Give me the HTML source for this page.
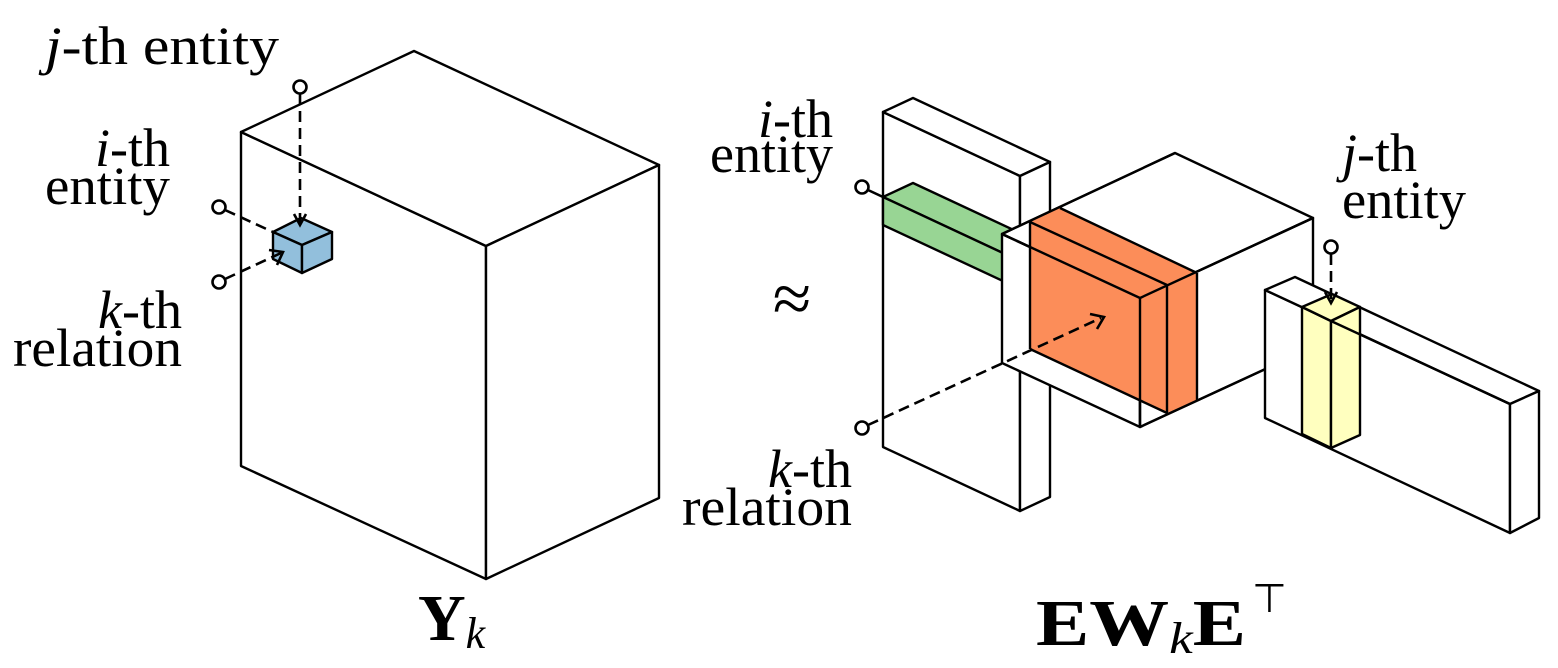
<!DOCTYPE html>
<html><head><meta charset="utf-8"><style>html,body{margin:0;padding:0;background:#fff}svg{display:block}</style></head>
<body>
<svg width="1558" height="668" viewBox="0 0 1558 668" xmlns="http://www.w3.org/2000/svg">
<g stroke="#000" stroke-width="2.4" stroke-linejoin="round" fill="#fff">
<polygon points="241,132 486,246 486,579 241,466"/>
<polygon points="241,132 414,51 659,165 486,246"/>
<polygon points="486,246 659,165 659,498 486,579"/>
<g fill="#92bfdc">
<polygon points="273,232 301,218 332,232 302,245"/>
<polygon points="273,232 302,245 302,273 273,259"/>
<polygon points="302,245 332,232 332,259 302,273"/>
</g>
<polygon points="883,112 1020,176 1020,511 883,447"/>
<polygon points="883,112 913,98 1050,162 1020,176"/>
<polygon points="1020,176 1050,162 1050,497 1020,511"/>
<g fill="#98d594">
<polygon points="883,197 913,183 1050,247 1020,261"/>
<polygon points="883,197 1020,261 1020,289 883,225"/>
</g>
<polygon points="1002,234 1140,298 1140,427 1002,363"/>
<polygon points="1002,234 1175,153 1313,218 1140,298"/>
<polygon points="1140,298 1313,218 1313,347 1140,427"/>
<polygon fill="#fc8d59" stroke="none" points="1030,222 1060,208 1197,273 1197,400 1167,413 1140,400 1030,349"/>
<g fill="none">
<line x1="1030" y1="222" x2="1030" y2="349"/>
<line x1="1030" y1="222" x2="1167" y2="285"/>
<line x1="1060" y1="208" x2="1197" y2="273"/>
<line x1="1140" y1="298" x2="1140" y2="427"/>
<line x1="1167" y1="285" x2="1167" y2="413"/>
<line x1="1197" y1="273" x2="1197" y2="400"/>
<line x1="1030" y1="349" x2="1167" y2="413"/>
<line x1="1002" y1="234" x2="1140" y2="298"/>
<line x1="1140" y1="298" x2="1313" y2="218"/>
<line x1="1140" y1="427" x2="1313" y2="347"/>
<line x1="1002" y1="234" x2="1175" y2="153"/>
</g>
<polygon points="1265,290 1510,404 1510,533 1265,418"/>
<polygon points="1265,290 1295,277 1539,391 1510,404"/>
<polygon points="1510,404 1539,391 1539,518 1510,533"/>
<g fill="#ffffbf">
<polygon points="1302,307 1331,321 1331,448 1302,434"/>
<polygon points="1302,307 1332,294 1360,307 1331,321"/>
<polygon points="1331,321 1360,307 1360,435 1331,448"/>
</g>
<line x1="1331" y1="321" x2="1510" y2="404"/>
</g>
<g stroke="#000" stroke-width="2.6" fill="none">
<g stroke-dasharray="11,6">
<line x1="225" y1="210" x2="273" y2="232"/>
<line x1="225" y1="279" x2="281" y2="253"/>
<line x1="300" y1="94" x2="300" y2="223"/>
<line x1="868" y1="425" x2="1101" y2="318"/>
<line x1="1331" y1="254" x2="1331" y2="300"/>
</g>
<line x1="868" y1="190" x2="883" y2="197"/>
<polyline points="269,250 283,252 277,265"/>
<polyline points="294,214 300,225 306,214"/>
<polyline points="1090,314 1104,317 1097,329"/>
<polyline points="1325,292 1331,303 1337,292"/>
<g fill="#fff">
<circle cx="219" cy="207" r="6.5"/>
<circle cx="219" cy="282" r="6.5"/>
<circle cx="300" cy="87" r="6.5"/>
<circle cx="862" cy="187" r="6.5"/>
<circle cx="862" cy="428" r="6.5"/>
<circle cx="1331" cy="247" r="6.5"/>
</g>
</g>
<g font-family="'Liberation Serif', serif" font-size="54" fill="#000">
<text x="45" y="64" textLength="234" lengthAdjust="spacingAndGlyphs"><tspan font-style="italic">j</tspan>-th entity</text>
<text x="170" y="166" text-anchor="end"><tspan font-style="italic">i</tspan>-th</text>
<text x="45" y="204" textLength="125" lengthAdjust="spacingAndGlyphs">entity</text>
<text x="182" y="328" text-anchor="end"><tspan font-style="italic">k</tspan>-th</text>
<text x="13" y="366" textLength="169" lengthAdjust="spacingAndGlyphs">relation</text>
<text x="833" y="137" text-anchor="end"><tspan font-style="italic">i</tspan>-th</text>
<text x="710" y="172" textLength="123" lengthAdjust="spacingAndGlyphs">entity</text>
<text x="852" y="487" text-anchor="end"><tspan font-style="italic">k</tspan>-th</text>
<text x="682" y="525" textLength="170" lengthAdjust="spacingAndGlyphs">relation</text>
<text x="1342" y="171"><tspan font-style="italic">j</tspan>-th</text>
<text x="1342" y="218" textLength="124" lengthAdjust="spacingAndGlyphs">entity</text>
<text x="792" y="322" text-anchor="middle" font-size="70">≈</text>
<text x="418" y="640" font-size="66" font-weight="bold">Y<tspan font-size="44" font-weight="normal" font-style="italic" dy="8">k</tspan></text>
<text x="1036" y="645" font-size="66" font-weight="bold" textLength="210" lengthAdjust="spacingAndGlyphs">EW<tspan font-size="44" font-weight="normal" font-style="italic" dy="8">k</tspan><tspan dy="-8">E</tspan></text>
<text x="1252" y="612" font-size="40">⊤</text>
</g>
</svg>
</body></html>
